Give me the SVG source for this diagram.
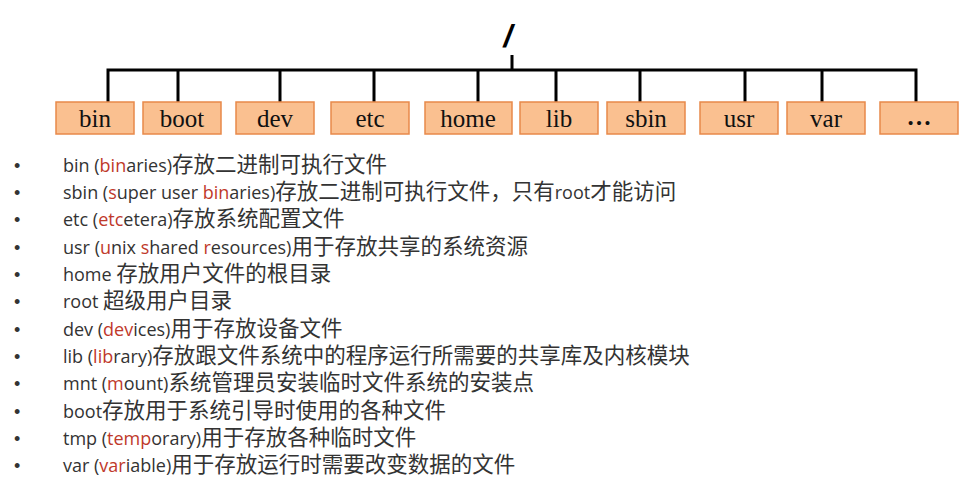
<svg xmlns="http://www.w3.org/2000/svg" width="965" height="500" viewBox="0 0 965 500">
<style>
.box{fill:#fac090;stroke:#e8894a;stroke-width:1.5}
.bl{font-family:"Liberation Serif",serif;font-size:25px;fill:#111;text-anchor:middle}
.ln{stroke:#000;stroke-width:3;fill:none}
.t{font-family:"Open Sans","Noto Sans CJK SC",sans-serif;font-size:18px;fill:#333}
.c{font-family:"Noto Sans CJK SC",sans-serif;font-size:21.5px}
.r{fill:#c0392b}
.b{font-family:"Liberation Sans",sans-serif;font-size:18px;fill:#333}
</style>
<rect width="965" height="500" fill="#fff"/>
<text x="508" y="47" font-family="Liberation Sans,sans-serif" font-size="32" font-weight="bold" font-style="italic" text-anchor="middle">/</text>
<g id="connectors" class="ln">
<path d="M512 55V70M108 102V70H916V102M178 70V102M280 70V102M374 70V102M478 70V102M556 70V102M640 70V102M745 70V102M822 70V102"/>
</g>
<g id="n-bin"><rect class="box" x="56" y="102" width="78" height="32"/><text class="bl" x="95" y="127">bin</text></g>
<g id="n-boot"><rect class="box" x="143" y="102" width="78" height="32"/><text class="bl" x="182" y="127">boot</text></g>
<g id="n-dev"><rect class="box" x="236" y="102" width="78" height="32"/><text class="bl" x="275" y="127">dev</text></g>
<g id="n-etc"><rect class="box" x="331" y="102" width="78" height="32"/><text class="bl" x="370" y="127">etc</text></g>
<g id="n-home"><rect class="box" x="425" y="102" width="87" height="32"/><text class="bl" x="468" y="127">home</text></g>
<g id="n-lib"><rect class="box" x="520" y="102" width="78" height="32"/><text class="bl" x="559" y="127">lib</text></g>
<g id="n-sbin"><rect class="box" x="607" y="102" width="78" height="32"/><text class="bl" x="646" y="127">sbin</text></g>
<g id="n-usr"><rect class="box" x="700" y="102" width="78" height="32"/><text class="bl" x="739" y="127">usr</text></g>
<g id="n-var"><rect class="box" x="787" y="102" width="78" height="32"/><text class="bl" x="826" y="127">var</text></g>
<g id="n-more"><rect class="box" x="880" y="102" width="78" height="32"/><text class="bl" x="919" y="125" font-weight="bold">…</text></g>
<g id="list">
<g class="b"><text x="14" y="172">•</text><text x="14" y="199">•</text><text x="14" y="226">•</text><text x="14" y="254">•</text><text x="14" y="281">•</text><text x="14" y="308">•</text><text x="14" y="336">•</text><text x="14" y="363">•</text><text x="14" y="390">•</text><text x="14" y="418">•</text><text x="14" y="445">•</text><text x="14" y="472">•</text></g>
<text class="t" x="63" y="172">bin (<tspan class="r">bin</tspan>aries)<tspan class="c">存放二进制可执行文件</tspan></text>
<text class="t" x="63" y="199">sbin (<tspan class="r">s</tspan>uper user <tspan class="r">bin</tspan>aries)<tspan class="c">存放二进制可执行文件，只有</tspan>root<tspan class="c">才能访问</tspan></text>
<text class="t" x="63" y="226">etc (<tspan class="r">etc</tspan>etera)<tspan class="c">存放系统配置文件</tspan></text>
<text class="t" x="63" y="254">usr (<tspan class="r">u</tspan>nix <tspan class="r">s</tspan>hared <tspan class="r">r</tspan>esources)<tspan class="c">用于存放共享的系统资源</tspan></text>
<text class="t" x="63" y="281">home <tspan class="c">存放用户文件的根目录</tspan></text>
<text class="t" x="63" y="308">root <tspan class="c">超级用户目录</tspan></text>
<text class="t" x="63" y="336">dev (<tspan class="r">dev</tspan>ices)<tspan class="c">用于存放设备文件</tspan></text>
<text class="t" x="63" y="363">lib (<tspan class="r">lib</tspan>rary)<tspan class="c">存放跟文件系统中的程序运行所需要的共享库及内核模块</tspan></text>
<text class="t" x="63" y="390">mnt (<tspan class="r">m</tspan>ount)<tspan class="c">系统管理员安装临时文件系统的安装点</tspan></text>
<text class="t" x="63" y="418">boot<tspan class="c">存放用于系统引导时使用的各种文件</tspan></text>
<text class="t" x="63" y="445">tmp (<tspan class="r">temp</tspan>orary)<tspan class="c">用于存放各种临时文件</tspan></text>
<text class="t" x="63" y="472">var (<tspan class="r">var</tspan>iable)<tspan class="c">用于存放运行时需要改变数据的文件</tspan></text>
</g>
</svg>
